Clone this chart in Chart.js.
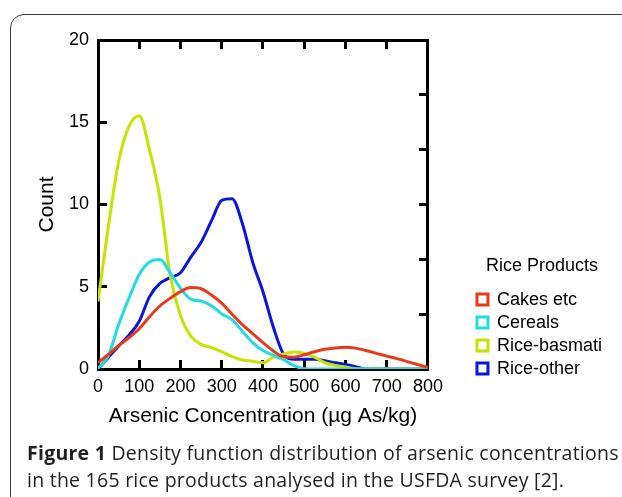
<!DOCTYPE html>
<html>
<head>
<meta charset="utf-8">
<script src="https://cdn.jsdelivr.net/npm/chart.js@4.4.1/dist/chart.umd.min.js"></script>
<style>
    body { margin: 0; background: #fff; width: 622px; height: 497px; overflow: hidden; position: relative; }
    #frame { position: absolute; left: 10px; top: 14px; width: 700px; height: 500px; border: 1.5px solid #3a3a3a; border-radius: 14px; }
    #chart { position: absolute; left: 0; top: 0; }
    #caption { position: absolute; left: 27px; top: 439px; font-family: 'Open Sans', sans-serif; font-size: 19.5px; letter-spacing: 0.25px; line-height: 27px; color: #231f20; white-space: nowrap; }
    #caption b { font-weight: 700; }
</style>
</head>
<body>
<div id="frame"></div>
<canvas id="chart" width="622" height="440"></canvas>
<div id="caption"><b>Figure 1</b> Density function distribution of arsenic concentrations<br>in the 165 rice products analysed in the USFDA survey [2].</div>
<script>
// Data (count vs arsenic concentration)
const concentration = [0, 25, 50, 75, 100, 125, 150, 175, 200, 225, 250, 275, 300, 325, 350, 375, 400,
    425, 450, 475, 500, 525, 550, 575, 600, 625, 650, 675, 700, 725, 750, 775, 800];

const cakes = [0.38, 0.88, 1.42, 1.9, 2.45, 3.18, 3.83, 4.3, 4.7, 4.95, 4.88, 4.5, 4.0, 3.33, 2.7, 2.15, 1.6,
    1.1, 0.74, 0.72, 0.87, 1.05, 1.2, 1.28, 1.32, 1.27, 1.12, 0.95, 0.78, 0.63, 0.45, 0.27, 0.1];
const cereals = [0.03, 0.8, 2.7, 4.3, 5.75, 6.5, 6.65, 5.85, 4.9, 4.25, 4.13, 3.85, 3.35, 3.0, 2.3, 1.6, 1.12,
    0.84, 0.57, 0.2, 0.02, 0, 0, 0, 0, 0, 0, 0, 0, 0, 0, 0, 0];
const basmati = [4.1, 8.65, 12.6, 14.75, 15.4, 13.3, 10.4, 5.7, 3.25, 2.0, 1.5, 1.3, 1.05, 0.75, 0.55, 0.47, 0.38,
    0.72, 0.92, 1.03, 0.95, 0.72, 0.38, 0.22, 0.12, 0.02, 0, 0, 0, 0, 0, 0, 0];
const riceOther = [0, 0.7, 1.4, 2.05, 2.9, 4.4, 5.2, 5.55, 5.85, 6.8, 7.7, 9.0, 10.25, 10.35, 8.85, 6.5, 4.7,
    2.55, 0.9, 0.6, 0.6, 0.6, 0.5, 0.38, 0.27, 0.14, 0, 0, 0, 0, 0, 0, 0];

const seriesNames = ['Cakes etc', 'Cereals', 'Rice-basmati', 'Rice-other'];
const seriesValues = [cakes, cereals, basmati, riceOther];
const seriesColors = ['#e83a1a', '#1fdde0', '#c6e400', '#0b16dc'];

Chart.defaults.font.family = "'Liberation Sans', Arial, sans-serif";
Chart.defaults.color = '#000';

const datasets = seriesNames.map((name, i) => ({
    label: name,
    data: concentration.map((x, j) => ({ x: x, y: seriesValues[i][j] })),
    borderColor: seriesColors[i],
    backgroundColor: '#fff',
    borderWidth: 3,
    pointRadius: 0,
    cubicInterpolationMode: 'monotone',
}));

// inward tick marks on every side of the box
const boxGrid = {
    drawOnChartArea: false,
    drawTicks: true,
    tickLength: -9,
    tickWidth: 3,
    tickColor: '#000',
};
const boxBorder = { display: true, width: 3, color: '#000' };

new Chart(document.getElementById('chart'), {
    type: 'line',
    data: { datasets: datasets },
    options: {
        responsive: false,
        animation: false,
        layout: { padding: { right: 10 } },
        plugins: {
            tooltip: { enabled: false },
            legend: {
                position: 'right',
                align: 'start',
                maxWidth: 200,
                title: {
                    display: true,
                    text: 'Rice Products',
                    font: { size: 18 },
                    padding: { top: 257, bottom: 7 },
                },
                labels: {
                    boxWidth: 11,
                    boxHeight: 11,
                    padding: 5,
                    font: { size: 18 },
                },
            },
        },
        scales: {
            x: {
                type: 'linear',
                position: 'bottom',
                min: 0,
                max: 800,
                ticks: { stepSize: 100, padding: 16, font: { size: 18 }, maxRotation: 0 },
                grid: boxGrid,
                border: boxBorder,
                title: {
                    display: true,
                    text: 'Arsenic Concentration (µg As/kg)',
                    font: { size: 21 },
                    padding: { top: 0, bottom: 11 },
                },
                afterFit: (scale) => { scale.height = 71; },
            },
            x2: {
                type: 'linear',
                axis: 'x',
                position: 'top',
                min: 0,
                max: 800,
                ticks: { stepSize: 100, display: false },
                grid: boxGrid,
                border: boxBorder,
                afterFit: (scale) => { scale.height = 40; },
            },
            y: {
                type: 'linear',
                position: 'left',
                min: 0,
                max: 20,
                ticks: { stepSize: 5, padding: 18, font: { size: 18 } },
                grid: boxGrid,
                border: boxBorder,
                title: {
                    display: true,
                    text: 'Count',
                    font: { size: 21 },
                    padding: { top: 35, bottom: 0 },
                },
                afterFit: (scale) => { scale.width = 98; },
            },
            y2: {
                type: 'linear',
                axis: 'y',
                position: 'right',
                min: 0,
                max: 20,
                ticks: { stepSize: 20 / 6, display: false },
                grid: boxGrid,
                border: boxBorder,
                afterFit: (scale) => { scale.width = 44; },
            },
        },
    },
});
</script>
</body>
</html>
